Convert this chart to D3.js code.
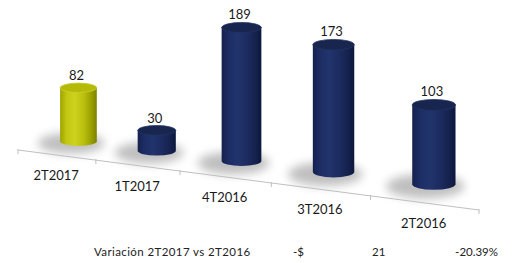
<!DOCTYPE html>
<html>
<head>
<meta charset="utf-8">
<script src="https://cdn.jsdelivr.net/npm/d3@7"></script>
<style>
  body { margin: 0; background: #fff; }
  svg { display: block; font-family: Lato, 'Open Sans', sans-serif; }
</style>
</head>
<body>
<svg id="chart" width="514" height="263"></svg>
<script>
const categories = ['2T2017', '1T2017', '4T2016', '3T2016', '2T2016'];
const values = [82, 30, 189, 173, 103];
const seriesKind = ['current', 'past', 'past', 'past', 'past'];
const footerLabels = ['Variación 2T2017 vs 2T2016', '-$', '21', '-20.39%'];

// perspective along the category axis (far left, near right)
const K = 0.813;
const persp = t => K * t / (1 + (K - 1) * t);
const sizeAt = t => 1 / (1 + (K - 1) * t);

const svg = d3.select('#chart');
const defs = svg.append('defs');

const band = d3.scaleBand().domain(categories).range([0, 1]);
const tCenter = d => band(d) + band.bandwidth() / 2;

// front axis line
const axisX = d3.scaleLinear().domain([0, 1]).range([18, 479]);
const axisY = d3.scaleLinear().domain([0, 1]).range([150, 210]);
// plane on which cylinders stand
const floorX = d3.scaleLinear().domain([0, 1]).range([41.5, 487.5]);
const floorY = d3.scaleLinear().domain([0, 1]).range([141.4, 196.4]);
const valueScale = d3.scaleLinear().domain([0, d3.max(values)]).range([0, 189 * 0.64]);

const BASE_R = 18;
const BASE_RY = 4.6;

const palettes = {
  current: {
    side: ['#9ea300', '#c2c810', '#cdd31e', '#b9bf0c', '#9a9f00', '#7c8100'],
    top: '#b5ba08', rim: '#c9ce30'
  },
  past: {
    side: ['#14214f', '#1d2d64', '#22346d', '#1c2b5f', '#15224e', '#0d173d'],
    top: '#18264f', rim: '#223363'
  }
};
Object.entries(palettes).forEach(([key, p]) => {
  const g = defs.append('linearGradient').attr('id', 'side-' + key)
    .attr('x1', 0).attr('x2', 1).attr('y1', 0).attr('y2', 0);
  [0, 0.18, 0.4, 0.65, 0.85, 1].forEach((o, i) => {
    g.append('stop').attr('offset', o).attr('stop-color', p.side[i]);
  });
});
defs.append('filter').attr('id', 'soft')
  .attr('x', '-50%').attr('y', '-100%').attr('width', '200%').attr('height', '300%')
  .append('feGaussianBlur').attr('stdDeviation', 5);

const bars = categories.map((c, i) => {
  const t = tCenter(c);
  const s = sizeAt(t);
  const r = BASE_R * s;
  const ry = BASE_RY * s;
  const cx = floorX(persp(t));
  const yb = floorY(persp(t)) - ry;
  const yt = yb - valueScale(values[i]) * s;
  return { c, v: values[i], kind: seriesKind[i], cx, yb, yt, r, ry };
});

// shadows
svg.append('g').selectAll('ellipse').data(bars).join('ellipse')
  .attr('cx', d => d.cx - d.r * 0.4)
  .attr('cy', d => d.yb + 2)
  .attr('rx', d => d.r * 1.8)
  .attr('ry', d => d.ry * 2.2)
  .attr('fill', '#8a8a8a')
  .attr('opacity', 0.55)
  .attr('filter', 'url(#soft)');

// axis line and ticks
const edges = d3.range(categories.length + 1).map(i => i / categories.length);
const axisG = svg.append('g').attr('stroke', '#bfbfbf').attr('stroke-width', 1);
axisG.append('line')
  .attr('x1', axisX(persp(0))).attr('y1', axisY(persp(0)))
  .attr('x2', axisX(persp(1))).attr('y2', axisY(persp(1)));
axisG.selectAll('.tick').data(edges).join('line').attr('class', 'tick')
  .attr('x1', d => axisX(persp(d))).attr('x2', d => axisX(persp(d)))
  .attr('y1', d => axisY(persp(d)) - 1).attr('y2', d => axisY(persp(d)) + 4);

// cylinders
const cyl = svg.append('g').selectAll('g').data(bars).join('g');
cyl.append('path')
  .attr('d', d => `M${d.cx - d.r},${d.yt}L${d.cx - d.r},${d.yb}` +
    `A${d.r},${d.ry} 0 0 0 ${d.cx + d.r},${d.yb}L${d.cx + d.r},${d.yt}Z`)
  .attr('fill', d => `url(#side-${d.kind})`);
cyl.append('ellipse')
  .attr('cx', d => d.cx).attr('cy', d => d.yt)
  .attr('rx', d => d.r).attr('ry', d => d.ry)
  .attr('fill', d => palettes[d.kind].top)
  .attr('stroke', d => palettes[d.kind].rim)
  .attr('stroke-width', 0.8);

// value labels
svg.append('g').selectAll('text').data(bars).join('text')
  .attr('x', d => d.cx - 2)
  .attr('y', d => d.yt - d.ry - 3)
  .attr('text-anchor', 'middle')
  .attr('font-size', 13)
  .attr('fill', '#1a1a1a')
  .text(d => d.v);

// category labels
svg.append('g').selectAll('text').data(categories).join('text')
  .attr('x', d => axisX(persp(tCenter(d))))
  .attr('y', d => axisY(persp(tCenter(d))) + 25)
  .attr('text-anchor', 'middle')
  .attr('font-size', 13)
  .attr('fill', '#1a1a1a')
  .text(d => d);

// footer row
const footerX = [94, 293, 372, 498];
const footerAnchor = ['start', 'start', 'start', 'end'];
svg.append('g').selectAll('text').data(footerLabels).join('text')
  .attr('x', (d, i) => footerX[i])
  .attr('y', 256)
  .attr('text-anchor', (d, i) => footerAnchor[i])
  .attr('font-size', 11.5)
  .attr('letter-spacing', (d, i) => i === 0 ? 0.4 : 0)
  .attr('fill', '#222')
  .text(d => d);
</script>
</body>
</html>
